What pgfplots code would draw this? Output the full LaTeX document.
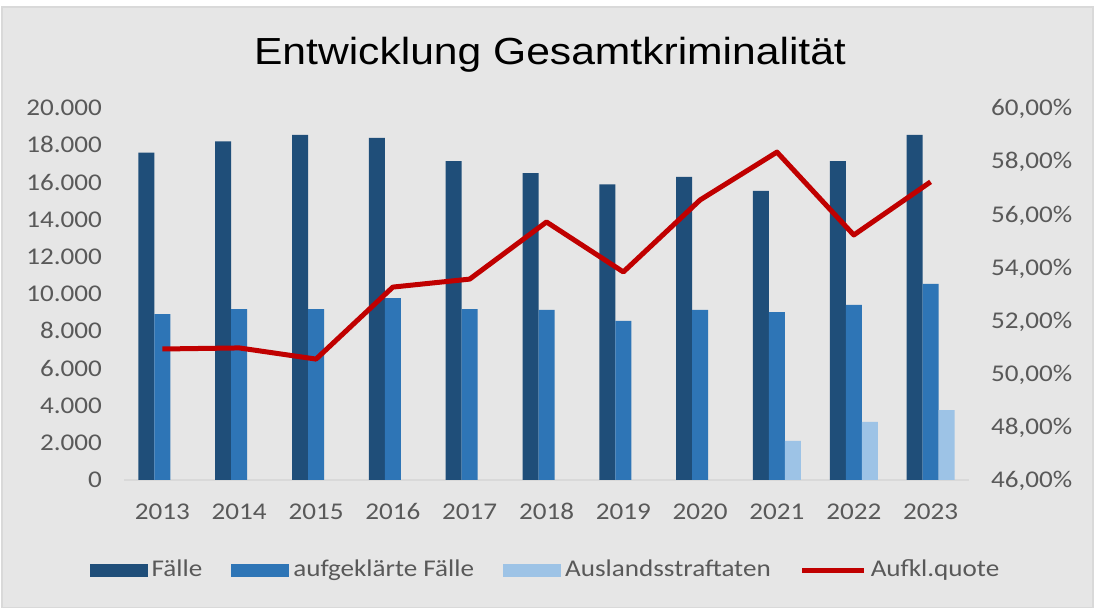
\documentclass[border=0pt]{standalone}
\usepackage{pgfplots}
\pgfplotsset{compat=1.18}
\usepackage{fontspec}
\setmainfont{Carlito}[FakeStretch=1.13]
\newfontfamily\titlefont{Liberation Sans}[FakeStretch=1.13]
\definecolor{cDark}{HTML}{1F4E79}
\definecolor{cMid}{HTML}{2E75B6}
\definecolor{cLight}{HTML}{9DC3E6}
\definecolor{cRed}{HTML}{C00000}
\definecolor{bg}{HTML}{E6E6E6}
\definecolor{tickgrey}{HTML}{595959}
\definecolor{axisgrey}{HTML}{D9D9D9}
\begin{document}
\begin{tikzpicture}
\path[use as bounding box, fill=white] (-62pt,-64pt) rectangle (485.5pt,240pt);
\fill[bg, draw=axisgrey, line width=0.6pt] (-61pt,-64pt) rectangle (484.5pt,236.5pt);
\begin{axis}[
  scale only axis, width=422.5pt, height=186pt,
  xmin=-0.5, xmax=10.5, ymin=0, ymax=20000,
  scaled y ticks=false,
  axis x line*=bottom, axis y line*=left,
  x axis line style={draw=axisgrey, line width=1.2pt, -},
  y axis line style={draw=none},
  tick style={draw=none}, major tick length=0pt,
  xtick={0,1,2,3,4,5,6,7,8,9,10},
  xticklabels={2013,2014,2015,2016,2017,2018,2019,2020,2021,2022,2023},
  ytick={0,2000,4000,6000,8000,10000,12000,14000,16000,18000,20000},
  yticklabels={0,2.000,4.000,6.000,8.000,10.000,12.000,14.000,16.000,18.000,20.000},
  /pgf/number format/assume math mode=true,
  every tick label/.append style={font=\fontsize{12}{14}\selectfont, text=tickgrey},
  xticklabel style={yshift=-8.5pt, text height=7.8pt, text depth=0pt},
  yticklabel style={xshift=-7.5pt, text height=7.8pt, text depth=0pt},
  ybar=0pt, bar width=8pt,
  legend columns=4,
  legend style={at={(0.5,-0.242)}, anchor=center, draw=none, fill=none,
    font=\fontsize{12}{14}\selectfont, text=tickgrey,
    /tikz/every even column/.append style={column sep=12.5pt}},
]
\addplot[fill=cDark, draw=none, legend image code/.code={\fill[cDark] (0pt,-3.25pt) rectangle (29pt,3.25pt);}] coordinates {
 (0,17600) (1,18200) (2,18550) (3,18400) (4,17150) (5,16500) (6,15900) (7,16300) (8,15550) (9,17150) (10,18550)};
\addlegendentry{Fälle}
\addplot[fill=cMid, draw=none, legend image code/.code={\fill[cMid] (0pt,-3.25pt) rectangle (29pt,3.25pt);}] coordinates {
 (0,8920) (1,9190) (2,9190) (3,9780) (4,9190) (5,9140) (6,8550) (7,9140) (8,9030) (9,9410) (10,10540)};
\addlegendentry{aufgeklärte Fälle}
\addplot[fill=cLight, draw=none, legend image code/.code={\fill[cLight] (0pt,-3.25pt) rectangle (29pt,3.25pt);}] coordinates {
 (8,2100) (9,3120) (10,3760)};
\addlegendentry{Auslandsstraftaten}
\addlegendimage{legend image code/.code={\draw[cRed, line width=2.5pt] (0pt,0pt) -- (31pt,0pt);}}
\addlegendentry{Aufkl.quote}
\end{axis}
\begin{axis}[
  scale only axis, width=422.5pt, height=186pt,
  xmin=-0.5, xmax=10.5, ymin=46, ymax=60,
  axis x line=none, axis y line*=right,
  y axis line style={draw=none},
  tick style={draw=none}, major tick length=0pt,
  ytick={46,48,50,52,54,56,58,60},
  yticklabels={{46,00\%},{48,00\%},{50,00\%},{52,00\%},{54,00\%},{56,00\%},{58,00\%},{60,00\%}},
  /pgf/number format/assume math mode=true,
  every tick label/.append style={font=\fontsize{12}{14}\selectfont, text=tickgrey},
  yticklabel style={xshift=7.5pt, text height=7.8pt, text depth=0pt},
]
\addplot[cRed, line width=2.5pt, line join=round, mark=none] coordinates {
 (0,50.93) (1,50.97) (2,50.55) (3,53.26) (4,53.56) (5,55.71) (6,53.83) (7,56.54) (8,58.34) (9,55.22) (10,57.22)};
\end{axis}
\node[anchor=base, font=\titlefont\fontsize{18.85}{22}\selectfont] at (213pt,207.5pt) {Entwicklung Gesamtkriminalität};
\end{tikzpicture}
\end{document}
